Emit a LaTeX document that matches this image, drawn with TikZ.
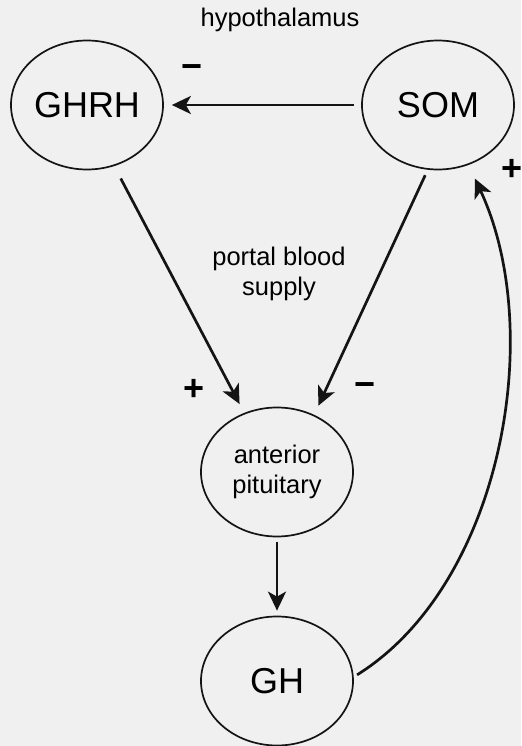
\documentclass[tikz,border=0pt]{standalone}
\usepackage{fontspec}
\setmainfont{Liberation Sans}
\usepackage{xcolor}
\usetikzlibrary{shapes.geometric,arrows.meta}
\definecolor{sfondo}{RGB}{240,240,240}
\definecolor{tratto}{RGB}{20,20,20}

\begin{document}
\begin{tikzpicture}[x=0.5pt, y=0.5pt,
        ormone/.style={draw=tratto, line width=0.85pt, ellipse, minimum width=76pt, minimum height=64.5pt, inner sep=0pt, font=\fontsize{18}{21}\selectfont},
        freccia/.style={-{Stealth[length=9.5pt, width=9pt, inset=2.5pt]}, line width=1.35pt, draw=tratto},
        segno/.style={font=\fontsize{18}{21}\selectfont\bfseries, inner sep=0pt},
        testo/.style={font=\fontsize{12.75}{15}\selectfont, align=center, inner sep=0pt}]
        % Sfondo
        \fill[sfondo] (0,0) rectangle (521,746);
        \useasboundingbox (0,0) rectangle (521,746);

        % Ipotalamo
        \node[testo, anchor=base] (hypo) at (280,719) {hypothalamus};
        \node[ormone] (ghrh) at (87,641) {GHRH};
        \node[ormone] (som) at (438,641) {SOM};

        % Ipofisi e GH
        \node[testo] (portal) at (279,472.5) {portal blood\\supply};
        \node[ormone, testo] (ap) at (277,274) {anterior\\pituitary};
        \node[ormone] (gh) at (277,65) {GH};

        % Segni
        \node[segno] (meno1) at (192,674) {−};
        \node[segno] (piu1) at (512,576) {+};
        \node[segno] (piu2) at (194,356) {+};
        \node[segno] (meno2) at (365,356) {−};

        % Frecce
        \draw[freccia, shorten <=3.5pt, shorten >=4pt] (som.west) -- (ghrh.east);
        \draw[freccia, shorten <=7pt, shorten >=5pt] (ghrh.-66) -- (ap.119);
        \draw[freccia, shorten <=3pt, shorten >=5pt] (som.-99) -- (ap.57);
        \draw[freccia, shorten <=2.5pt, shorten >=2.5pt] (ap.south) -- (gh.north);
        \draw[freccia, shorten <=2pt, shorten >=7.5pt] (gh.3) to[out=32, in=-65, out looseness=0.85, in looseness=0.9] (som.-63); % ritorno positivo
    \end{tikzpicture}
\end{document}
